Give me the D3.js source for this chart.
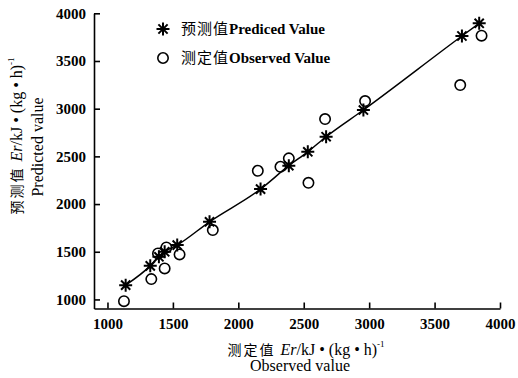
<!DOCTYPE html>
<html>
<head>
<meta charset="utf-8">
<script src="https://cdn.jsdelivr.net/npm/d3@7/dist/d3.min.js"></script>
<style>
  body { margin: 0; background: #fff; }
  svg { display: block; }
  text { fill: #000; }
</style>
</head>
<body>
<svg id="chart" width="518" height="378"></svg>
<script>
// ---- data ----
const predObserved  = [1139, 1327, 1393, 1437, 1533, 1780, 2170, 2386, 2531, 2671, 2956, 3709, 3841];
const predPredicted = [1150, 1352, 1447, 1500, 1570, 1814, 2157, 2402, 2548, 2706, 2986, 3762, 3895];

const obsX = [1126, 1335, 1386, 1437, 1450, 1551, 1805, 2149, 2322, 2386, 2536, 2663, 2969, 3696, 3859];
const obsY = [ 982, 1213, 1482, 1325, 1545, 1472, 1727, 2349, 2391, 2479, 2223, 2891, 3080, 3248, 3765];

const xTicks = [1000, 1500, 2000, 2500, 3000, 3500, 4000];
const yTicks = [1000, 1500, 2000, 2500, 3000, 3500, 4000];

const legendLabels = [
  { cn: "预测值", en: "Prediced Value" },
  { cn: "测定值", en: "Observed Value" }
];

// ---- drawing ----
const svg = d3.select("#chart");
const serif = "'Liberation Serif','Times New Roman',serif";
const cjk = "'Noto Sans CJK SC','Noto Sans CJK JP',sans-serif";

const x = d3.scaleLinear().domain([897, 4000]).range([94, 500]);
const y = d3.scaleLinear().domain([905, 4000]).range([308.5, 13.3]);

// axes (ticks pointing inward)
const xAxis = d3.axisBottom(x).tickValues(xTicks).tickFormat(d3.format("d"))
  .tickSizeInner(-6).tickSizeOuter(0).tickPadding(10);
const yAxis = d3.axisLeft(y).tickValues(yTicks).tickFormat(d3.format("d"))
  .tickSizeInner(-6).tickSizeOuter(0).tickPadding(8);

const gx = svg.append("g").attr("transform", `translate(0,${y.range()[0]})`).call(xAxis);
const gy = svg.append("g").attr("transform", `translate(${x.range()[0]},0)`).call(yAxis);

[gx, gy].forEach(g => {
  g.select(".domain").attr("stroke", "#000").attr("stroke-width", 1.6);
  g.selectAll(".tick line").attr("stroke", "#000").attr("stroke-width", 1.6);
  g.selectAll(".tick text")
    .attr("font-family", serif).attr("font-weight", "bold").attr("font-size", 15).attr("fill", "#000");
});
gx.selectAll(".tick text").attr("dy", "0.71em");

// fitted line through predicted values
const pred = predObserved.map((v, i) => ({ x: v, y: predPredicted[i] }));
const obs = obsX.map((v, i) => ({ x: v, y: obsY[i] }));

svg.append("path")
  .datum(pred)
  .attr("fill", "none")
  .attr("stroke", "#000")
  .attr("stroke-width", 1.5)
  .attr("d", d3.line().x(d => x(d.x)).y(d => y(d.y)).curve(d3.curveMonotoneX));

// asterisk symbol path
function asterisk(r) {
  let p = "";
  for (let k = 0; k < 4; k++) {
    const a = k * Math.PI / 4;
    const dx = r * Math.cos(a), dy = r * Math.sin(a);
    p += `M${-dx},${-dy}L${dx},${dy}`;
  }
  return p;
}

// observed circles
svg.append("g").selectAll("circle")
  .data(obs).join("circle")
  .attr("cx", d => x(d.x)).attr("cy", d => y(d.y))
  .attr("r", 5.2)
  .attr("fill", "none").attr("stroke", "#000").attr("stroke-width", 1.6);

// predicted asterisks
svg.append("g").selectAll("path")
  .data(pred).join("path")
  .attr("transform", d => `translate(${x(d.x)},${y(d.y)})`)
  .attr("d", asterisk(6.5))
  .attr("stroke", "#000").attr("stroke-width", 2).attr("stroke-linecap", "butt");

// legend
const lg = svg.append("g");
lg.append("path").attr("transform", "translate(163,29)").attr("d", asterisk(6.5))
  .attr("stroke", "#000").attr("stroke-width", 2);
lg.append("circle").attr("cx", 163).attr("cy", 58).attr("r", 5.2)
  .attr("fill", "none").attr("stroke", "#000").attr("stroke-width", 1.6);

[34, 63].forEach((by, i) => {
  const t = lg.append("text").attr("x", 181).attr("y", by);
  t.append("tspan").attr("font-family", cjk).attr("font-size", 15).attr("letter-spacing", 1).text(legendLabels[i].cn);
  t.append("tspan").attr("font-family", serif).attr("font-weight", "bold").attr("font-size", 15).text(legendLabels[i].en);
});

// axis titles
function unitLabel(sel, cn) {
  sel.append("tspan").attr("font-family", cjk).attr("font-size", 14).attr("letter-spacing", 2).text(cn + " ");
  sel.append("tspan").attr("font-family", serif).attr("font-style", "italic").attr("font-size", 16).text("Er");
  sel.append("tspan").attr("font-family", serif).attr("font-size", 16).text("/kJ • (kg • h)");
  sel.append("tspan").attr("font-family", serif).attr("font-size", 9).attr("dy", -8).text("-1");
}

const xt = svg.append("text").attr("x", 306).attr("y", 355).attr("text-anchor", "middle");
unitLabel(xt, "测定值");
svg.append("text").attr("x", 300).attr("y", 371).attr("text-anchor", "middle")
  .attr("font-family", serif).attr("font-size", 16).text("Observed value");

const yt = svg.append("text").attr("transform", "translate(22,136) rotate(-90)").attr("text-anchor", "middle");
unitLabel(yt, "预测值");
svg.append("text").attr("transform", "translate(43,147) rotate(-90)").attr("text-anchor", "middle")
  .attr("font-family", serif).attr("font-size", 16).text("Predicted value");
</script>
</body>
</html>
